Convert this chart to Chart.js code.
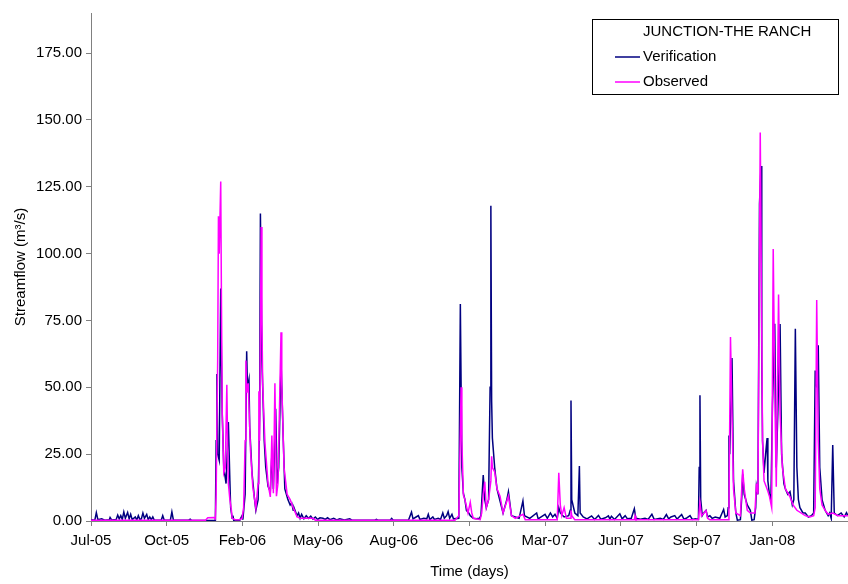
<!DOCTYPE html>
<html>
<head>
<meta charset="utf-8">
<title>JUNCTION-THE RANCH</title>
<script src="https://cdn.jsdelivr.net/npm/chart.js@4.4.0/dist/chart.umd.min.js"></script>
<style>
    body { margin: 0; background: #fff; }
</style>
</head>
<body>
<canvas id="flowChart" width="848" height="584"></canvas>
<script>
// daily streamflow, day 0 = 20 Jul 2005
const legendTitle = 'JUNCTION-THE RANCH';
const xTickLabels = ['Jul-05', 'Oct-05', 'Feb-06', 'May-06', 'Aug-06', 'Dec-06', 'Mar-07', 'Jun-07', 'Sep-07', 'Jan-08'];

const verDays = [
    0, 5, 7, 9, 14, 18, 24, 25, 27, 33, 35, 37, 39, 41, 43, 45, 48, 50, 52, 54, 58, 60, 62, 64, 66, 68, 70, 73, 75, 77, 79, 81, 83,
    92, 94, 96, 104, 106, 108, 128, 130, 132,
    163, 164, 165, 166, 168, 170, 171, 172, 174, 177, 180, 182, 183, 185, 186, 187, 195, 198, 199,
    202, 204, 205, 207, 208, 211, 214, 216, 219, 221, 222, 224, 227, 229, 232, 235, 237, 239, 242, 244, 246, 249, 252, 254,
    258, 261, 263, 265, 266, 270, 272, 274, 276, 279, 282, 285, 288, 291, 294, 297, 300, 304, 307, 310, 313, 318, 322, 326,
    332, 339, 342, 372, 374, 376, 392, 394, 396, 416, 420, 422, 426, 429, 431, 436, 440, 442, 444, 448, 450, 455, 458,
    461, 463, 466, 468, 470, 473, 475, 482, 484, 486, 488, 490, 492, 495, 497, 501, 505, 509, 511, 514, 516, 518, 521,
    523, 524, 525, 526, 529, 532, 536, 540, 545, 547, 551, 556, 561, 566, 568, 575, 584, 586, 595, 598, 602, 605, 608,
    611, 613, 615, 620, 626, 628, 629, 630, 634, 638, 640, 641, 645, 650, 656, 660, 665, 668, 674, 678, 680, 682, 686,
    693, 696, 700, 703, 708, 712, 714, 720, 726, 730, 735, 738, 746, 750, 754, 757, 760, 765, 768, 774, 777, 780, 785,
    788, 792, 796, 797, 798, 799, 801, 803, 806, 808, 811, 814, 818, 824, 827, 829, 831, 834, 835, 836, 837, 840, 842,
    845, 847, 851, 853, 854, 856, 860, 864, 866, 869, 871, 872, 874, 876, 878, 879, 880, 882, 884, 886, 887, 889, 891,
    893, 896, 898, 900, 903, 905, 908, 910, 913, 916, 919, 921, 923, 925, 927, 929, 933, 936, 940, 944, 947, 949, 951,
    953, 955, 958, 962, 966, 968, 970, 972, 974, 978, 983, 987, 990, 992
];
const verFlow = [
    0.5, 0.3, 3.1, 0.5, 0.8, 0.3, 0.5, 1.3, 0.4, 0.6, 2.2, 0.8, 2, 0.6, 3.4, 1, 3.2, 0.8, 2.5, 0.5, 1.5, 0.4, 2, 0.6, 0.8, 3, 1, 2.5, 0.5, 1.5, 0.5, 1.5, 0.3,
    0.3, 2, 0.3, 0.3, 3.4, 0.3, 0.3, 0.7, 0.2,
    0.2, 30, 55, 25, 22.7, 87, 60, 40, 20, 14, 37, 15, 5, 1, 2, 0.3, 0.3, 2, 0.5,
    10, 63.5, 50, 53, 35, 18, 9, 4, 8, 40, 115, 60, 30, 20, 13, 11, 25, 12, 42, 14, 20, 60, 30, 12,
    8, 6, 6.7, 4, 5, 2, 3, 1, 2.5, 0.8, 2, 1, 1.8, 0.7, 1.5, 0.6, 1.2, 1, 0.6, 1.2, 0.5, 1, 0.4, 0.8,
    0.4, 0.8, 0.3, 0.3, 0.6, 0.3, 0.3, 1, 0.3, 0.3, 3.3, 0.8, 1.5, 2, 0.6, 1, 0.8, 2.5, 0.5, 1.5, 0.6, 1, 0.6,
    3, 1, 2, 3.5, 1, 2.5, 0.8, 1, 81.2, 20, 10.3, 8, 4, 3, 2, 1, 0.8, 1, 2, 17.2, 8, 5, 8,
    50, 117.9, 45, 31, 20, 12, 7.5, 3, 8.1, 11, 2, 1.5, 1, 7.5, 2, 1, 3, 0.8, 2.5, 1, 3, 1.5, 2.5,
    1, 5, 3, 1.5, 2, 4, 45.1, 8, 3, 2, 20.6, 3, 1.5, 0.8, 1.9, 0.6, 2.1, 0.7, 1.2, 1.9, 0.7, 1.8, 0.6,
    2.7, 0.8, 2, 0.8, 1, 4.6, 1, 0.7, 1, 0.6, 2.5, 0.6, 1, 0.6, 2.4, 0.8, 1.5, 2, 0.7, 2.4, 0.7, 1, 2,
    0.6, 0.8, 0.6, 20, 47, 8, 2, 3, 4, 1.5, 2, 1, 1.5, 1, 3, 4.3, 1.5, 2, 5, 32, 25, 61, 15,
    3, 0.3, 0.5, 10, 17.5, 10, 6, 4, 0.3, 0.5, 5, 13, 10, 118.6, 132.8, 60, 30, 18, 25, 31, 15, 10, 8,
    43.3, 73.8, 20, 40, 73.7, 25, 14, 12, 10, 11, 6, 8, 71.9, 20, 8, 5, 3, 3, 1.5, 2, 3, 56.3, 50,
    65.7, 20, 8, 4, 2, 3, 1, 28.4, 3, 2, 3, 1.5, 3.1, 2
];

const obsDays = [
    0, 150, 153, 161, 163, 164, 166, 167, 168, 170, 171, 172, 174, 176, 178, 179, 180, 182, 184, 185, 189, 195, 198, 200,
    202, 203, 204, 206, 208, 209, 212, 216, 219, 220, 221, 223, 224, 225, 228, 232, 235, 237, 239, 241, 243, 245, 249, 250,
    253, 257, 261, 265, 270, 274, 291, 294, 477, 482, 485, 486, 488, 490, 494, 497, 499, 501, 510, 512, 514, 516, 518, 521,
    524, 525, 526, 529, 532, 536, 540, 545, 547, 551, 556, 566, 569, 611, 613, 615, 617, 620, 623, 628, 629, 630, 634,
    712, 713, 714, 796, 798, 800, 806, 808, 811, 835, 836, 838, 840, 842, 845, 851, 854, 856, 860, 864, 870, 872, 874,
    877, 879, 880, 882, 886, 889, 892, 894, 896, 898, 901, 903, 906, 910, 916, 920, 925, 936, 942, 947, 949, 951, 953,
    955, 958, 962, 966, 972, 979, 984, 992
];
const obsFlow = [
    0.3, 0.3, 1.2, 1.3, 0.8, 10, 60, 114, 100, 127, 80, 40, 18, 20, 51, 30, 14, 8, 4, 1, 0.5, 0.5, 1, 5,
    30, 60, 48, 51.5, 35, 26.5, 12.8, 4.8, 14, 48.5, 30, 110, 75, 51, 29, 14, 9, 32, 10.4, 51.5, 9.3, 14, 70.6, 51,
    20, 10, 8, 5, 1.6, 1, 1, 0.3, 0.3, 2, 50, 30, 9.7, 8, 3, 7, 3, 1, 0.5, 3, 10, 14.7, 5, 8,
    15, 24.2, 20, 18.4, 12, 9.3, 3, 7.5, 9.3, 2, 1, 2.5, 0.5, 0.5, 18, 6, 2, 5, 1, 1, 4, 2, 0.5,
    0.5, 1.9, 0.5, 0.5, 6.8, 2, 3.9, 1, 0.5, 0.5, 5, 68.8, 40, 12, 3, 2, 19.3, 12, 4, 3, 3, 14, 10,
    145.3, 70, 30, 15, 12, 9.3, 5, 101.7, 50, 12.8, 84.7, 40, 20, 12, 9, 6, 4, 2, 1.5, 2, 5, 82.7, 30,
    12, 6, 4, 2.5, 3, 2, 2, 2
];

const toPoints = (days, flow) => days.map((d, i) => ({ x: d, y: flow[i] }));

const ctx = document.getElementById('flowChart').getContext('2d');

Chart.defaults.font.family = '"Liberation Sans", Arial, sans-serif';
Chart.defaults.font.size = 15;
Chart.defaults.color = '#000';

// legend box drawn inside the plot, top right
const boxLegend = {
    id: 'boxLegend',
    afterDraw(chart) {
        const c = chart.ctx;
        c.save();
        c.fillStyle = '#fff';
        c.fillRect(592.5, 19.5, 246, 75);
        c.strokeStyle = '#000';
        c.lineWidth = 1;
        c.strokeRect(592.5, 19.5, 246, 75);
        c.font = '15px "Liberation Sans", Arial, sans-serif';
        c.fillStyle = '#000';
        c.textBaseline = 'middle';
        c.fillText(legendTitle, 643, 32);
        chart.data.datasets.forEach((ds, i) => {
            const y = 57 + i * 25;
            c.strokeStyle = ds.borderColor;
            c.lineWidth = 1.5;
            c.beginPath();
            c.moveTo(615, y);
            c.lineTo(640, y);
            c.stroke();
            c.fillText(ds.label, 643, y);
        });
        c.restore();
    }
};

const config = {
    type: 'line',
    data: {
        datasets: [{
            label: 'Verification',
            data: toPoints(verDays, verFlow),
            borderColor: '#000080',
            borderWidth: 1.5,
            pointRadius: 0,
            tension: 0,
            order: 1
        }, {
            label: 'Observed',
            data: toPoints(obsDays, obsFlow),
            borderColor: '#ff00ff',
            borderWidth: 1.5,
            pointRadius: 0,
            tension: 0,
            order: 0
        }]
    },
    options: {
        responsive: false,
        animation: false,
        layout: { padding: { top: 12, right: 0, left: 0, bottom: 0 } },
        plugins: {
            legend: { display: false },
            tooltip: { enabled: false }
        },
        scales: {
            x: {
                type: 'linear',
                min: 0,
                max: 992,
                grid: { drawOnChartArea: false, tickLength: 5, color: '#808080' },
                border: { color: '#808080' },
                ticks: {
                    stepSize: 100,
                    includeBounds: false,
                    autoSkip: false,
                    maxRotation: 0,
                    padding: 6,
                    callback: v => xTickLabels[Math.round(v / 100)]
                },
                title: { display: true, text: 'Time (days)', padding: { top: 0, bottom: 3 } },
                afterFit: s => { s.height = 63; }
            },
            y: {
                min: 0,
                max: 190,
                grid: { drawOnChartArea: false, tickLength: 5, color: '#808080' },
                border: { color: '#808080' },
                ticks: {
                    stepSize: 25,
                    includeBounds: false,
                    padding: 4,
                    callback: v => v.toFixed(2)
                },
                title: { display: true, text: 'Streamflow (m³/s)', padding: { top: 12, bottom: 0 } },
                afterFit: s => { s.width = 91; }
            }
        }
    },
    plugins: [boxLegend]
};

const flowChart = new Chart(ctx, config);
</script>
</body>
</html>
